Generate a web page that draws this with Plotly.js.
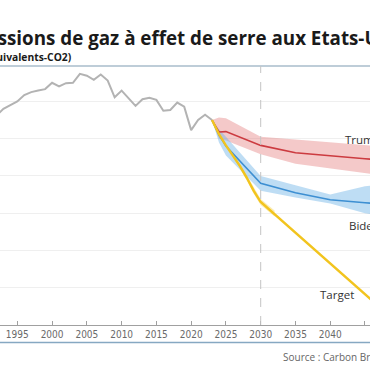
<!DOCTYPE html>
<html>
<head>
<meta charset="utf-8">
<script src="https://cdn.plot.ly/plotly-3.0.1.min.js"></script>
<style>html,body{margin:0;padding:0;overflow:hidden;background:#fff;}#chart{width:370px;height:370px;}</style>
</head>
<body>
<div id="chart"></div>
<script>
// Historical emissions (MtCO2e)
const histYears = [1990,1991,1992,1993,1994,1995,1996,1997,1998,1999,2000,2001,2002,2003,2004,2005,2006,2007,2008,2009,2010,2011,2012,2013,2014,2015,2016,2017,2018,2019,2020,2021,2022,2023];
const histValues = [5500,5470,5620,5800,5900,6000,6170,6250,6290,6330,6500,6400,6490,6500,6740,6690,6580,6720,6560,6110,6290,6080,5880,6060,6100,6040,5750,5770,5970,5860,5230,5500,5640,5500];

// Trump scenario
const trumpYears = [2023,2024,2025,2030,2035,2040,2045,2050];
const trumpValues = [5500,5180,5190,4820,4620,4530,4460,4400];
const trumpUpper  = [5500,5570,5550,5050,4980,4900,4800,4750];
const trumpLower  = [5500,5000,4950,4580,4330,4200,4050,3950];

// Biden scenario
const bidenYears = [2023,2024,2025,2030,2035,2040,2045,2050];
const bidenValues = [5500,5100,4800,3800,3550,3360,3280,3220];
const bidenUpper  = [5500,5250,5050,4000,3750,3500,3720,3850];
const bidenLower  = [5500,4900,4550,3600,3420,3260,3000,2850];

// Target pathway
const targetYears = [2023,2024,2025,2026,2027,2028,2029,2030,2040,2050];
const targetValues = [5500,5120,4820,4550,4270,3950,3600,3300,1650,0];
const targetBandYears = [2026,2027,2028,2029,2030,2031,2032];
const targetBandUpper = [4600,4330,4020,3680,3380,3230,3070];
const targetBandLower = [4500,4210,3880,3520,3220,3070,2910];

const tickYears = [1995,2000,2005,2010,2015,2020,2025,2030,2035,2040,2045];
const tickLabels = tickYears.map(String);

const labelTrump = {year: 2041.8, value: 4990, text: 'Trump'};
const labelBiden = {year: 2042.4, value: 2660, text: 'Biden'};
const labelTarget = {year: 2038.2, value: 830, text: 'Target'};

function band(xs, up, lo, color) {
  return [
    {x: xs, y: up, mode: 'lines', line: {width: 0}, hoverinfo: 'skip', showlegend: false, type: 'scatter'},
    {x: xs, y: lo, mode: 'lines', line: {width: 0}, fill: 'tonexty', fillcolor: color, hoverinfo: 'skip', showlegend: false, type: 'scatter'}
  ];
}

const traces = [].concat(
  band(trumpYears, trumpUpper, trumpLower, 'rgba(226,112,112,0.38)'),
  band(bidenYears, bidenUpper, bidenLower, 'rgba(110,180,230,0.45)'),
  band(targetBandYears, targetBandUpper, targetBandLower, 'rgba(240,200,40,0.35)'),
  [
    {x: histYears, y: histValues, mode: 'lines', line: {color: '#b3b3b3', width: 2}, type: 'scatter', showlegend: false},
    {x: trumpYears, y: trumpValues, mode: 'lines', line: {color: '#cc3b40', width: 1.6}, type: 'scatter', showlegend: false},
    {x: bidenYears, y: bidenValues, mode: 'lines', line: {color: '#3d8fd2', width: 1.6}, type: 'scatter', showlegend: false},
    {x: targetYears, y: targetValues, mode: 'lines', line: {color: '#f2c41e', width: 2.4}, type: 'scatter', showlegend: false}
  ]
);

const W = 370;
const layout = {
  width: 370, height: 370,
  margin: {l: 0, r: 0, t: 66, b: 45, pad: 0},
  paper_bgcolor: '#ffffff', plot_bgcolor: '#ffffff',
  showlegend: false,
  xaxis: {
    range: [1992.51, 2045.72], showgrid: false, zeroline: false,
    showline: true, linecolor: '#a0a0a0', linewidth: 1,
    ticks: 'inside', ticklen: 4, tickcolor: '#a0a0a0',
    tickvals: tickYears, ticktext: tickLabels,
    tickfont: {family: 'DejaVu Sans Condensed, Liberation Sans Narrow, sans-serif', size: 10, color: '#6a6a6a'}
  },
  yaxis: {
    range: [0, 6950], dtick: 1000, showticklabels: false, zeroline: false,
    showgrid: true, gridcolor: '#efefef', gridwidth: 1, showline: false, ticks: ''
  },
  shapes: [
    {type: 'line', xref: 'paper', yref: 'paper', x0: 0, x1: 1, y0: 1, y1: 1, line: {color: '#a9bccb', width: 1.5}},
    {type: 'line', xref: 'paper', yref: 'paper', x0: 0, x1: 1, y0: -0.0676, y1: -0.0676, line: {color: '#86a8c2', width: 1.5}},
    {type: 'line', xref: 'x', yref: 'paper', x0: 2030, x1: 2030, y0: 0, y1: 1, line: {color: '#c4c4c4', width: 1, dash: 'dash'}}
  ],
  annotations: [
    {xref: 'paper', yref: 'paper', x: -39 / W, y: 1.108, xanchor: 'left', yanchor: 'middle', showarrow: false,
     text: '<b>Émissions de gaz à effet de serre aux Etats-Unis</b>',
     font: {family: 'Open Sans, sans-serif', size: 18.8, color: '#1a1a1a'}},
    {xref: 'paper', yref: 'paper', x: 74 / W, y: 1.035, xanchor: 'right', yanchor: 'middle', showarrow: false,
     text: '<b>(millions de tonnes équivalents-CO2)</b>',
     font: {family: 'Open Sans, sans-serif', size: 10.3, color: '#1a1a1a'}},
    {xref: 'paper', yref: 'paper', x: 281 / W, y: -0.1236, xanchor: 'left', yanchor: 'middle', showarrow: false,
     text: 'Source : Carbon Brief',
     font: {family: 'Open Sans, sans-serif', size: 10, color: '#666'}},
    {xref: 'x', yref: 'y', x: labelTrump.year, y: labelTrump.value, xanchor: 'left', yanchor: 'middle', showarrow: false,
     text: labelTrump.text, font: {family: 'Open Sans, sans-serif', size: 11.5, color: '#333'}},
    {xref: 'x', yref: 'y', x: labelBiden.year, y: labelBiden.value, xanchor: 'left', yanchor: 'middle', showarrow: false,
     text: labelBiden.text, font: {family: 'Open Sans, sans-serif', size: 11.5, color: '#333'}},
    {xref: 'x', yref: 'y', x: labelTarget.year, y: labelTarget.value, xanchor: 'left', yanchor: 'middle', showarrow: false,
     text: labelTarget.text, font: {family: 'Open Sans, sans-serif', size: 11.5, color: '#333'}}
  ]
};

Plotly.newPlot('chart', traces, layout, {staticPlot: true, displayModeBar: false});
</script>
</body>
</html>
